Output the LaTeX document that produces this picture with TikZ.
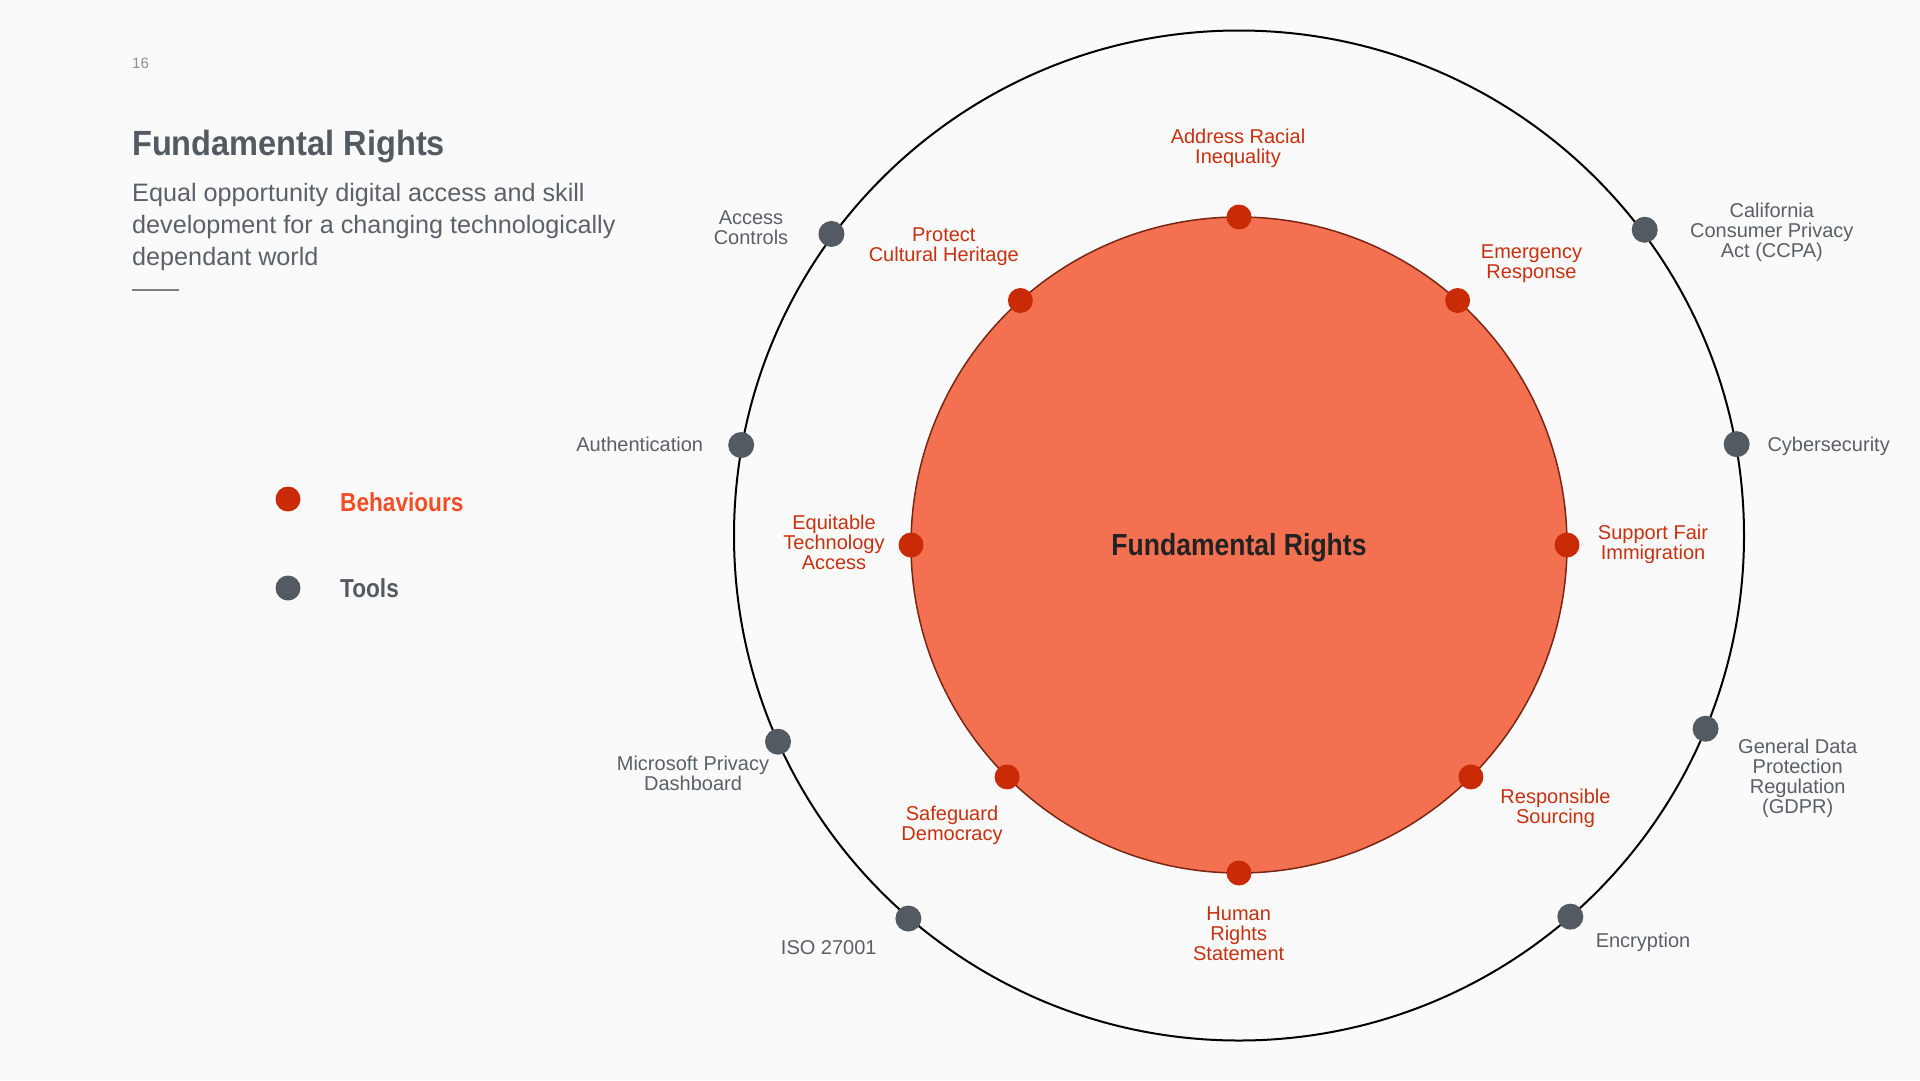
\documentclass[tikz,border=0pt]{standalone}
\usepackage{fontspec}
\setmainfont{Liberation Sans}
\newfontfamily\condb[FakeStretch=0.87]{Liberation Sans}
\newfontfamily\titlef[FakeStretch=0.93]{Liberation Sans}
\usetikzlibrary{calc}
\definecolor{bg}{HTML}{FAFAFA}
\definecolor{innerfill}{HTML}{F37150}
\definecolor{innerline}{HTML}{7A2612}
\definecolor{bdotc}{HTML}{C82B06}
\definecolor{blabc}{HTML}{C8300E}
\definecolor{legendb}{HTML}{F24E25}
\definecolor{tdotc}{HTML}{545A62}
\definecolor{tlabc}{HTML}{5A6068}
\definecolor{titlec}{HTML}{545A61}
\definecolor{bodyc}{HTML}{5B6169}
\definecolor{centerc}{HTML}{222222}
\definecolor{pagec}{HTML}{8A8F94}
\definecolor{sepc}{HTML}{7A7F85}
\begin{document}
\begin{tikzpicture}[x=1pt,y=-1pt,
  bdot/.style={circle, fill=bdotc, inner sep=0pt, minimum size=25pt},
  tdot/.style={circle, fill=tdotc, inner sep=0pt, minimum size=26pt},
  lab/.style={align=center, anchor=base, inner sep=0pt, font=\fontsize{20}{20}\selectfont},
  blabel/.style={lab, text=blabc},
  tlabel/.style={lab, text=tlabc}]
\path[use as bounding box, fill=bg] (0,0) rectangle (1920,1080);

% header (multi-line nodes are anchored at the baseline of their last line)
\node[anchor=base west, inner sep=0pt, text=pagec, font=\fontsize{15}{15}\selectfont] (page) at (132,68.3) {16};
\node[anchor=base west, inner sep=0pt, text=titlec, font=\titlef\bfseries\fontsize{35}{35}\selectfont] (title) at (132,155) {Fundamental Rights};
\node[anchor=base west, inner sep=0pt, align=left, text=bodyc, font=\fontsize{25.2}{31.7}\selectfont] (body) at (132,265) {Equal opportunity digital access and skill\\development for a changing technologically\\dependant world};
\coordinate (s1) at (132,290);
\coordinate (s2) at (178.5,290);
\draw[sepc, line width=2pt] (s1) -- (s2);

% legend
\node[bdot] (legb) at (288,499) {};
\node[tdot, minimum size=25pt] (legt) at (288,588) {};
\node[anchor=base west, inner sep=0pt, text=legendb, font=\condb\bfseries\fontsize{26}{26}\selectfont] (legbt) at (340,511) {Behaviours};
\node[anchor=base west, inner sep=0pt, text=titlec, font=\condb\bfseries\fontsize{26}{26}\selectfont] (legtt) at (340,597) {Tools};

% circles
\coordinate (co) at (1239,535.5);
\coordinate (ci) at (1239,545);
\node[circle, draw=black, line width=2pt, minimum size=1010pt, inner sep=0pt] (outer) at (co) {};
\node[circle, draw=innerline, line width=1.5pt, fill=innerfill, minimum size=656pt, inner sep=0pt] (inner) at (ci) {};
\node[anchor=base, inner sep=0pt, text=centerc, font=\condb\bfseries\fontsize{30.5}{30.5}\selectfont] (ctitle) at (1239,555) {Fundamental Rights};

% behaviours (inner circle)
\node[bdot] (b1) at ($(ci)+(-90:328)$) {};
\node[bdot] (b2) at ($(ci)+(-48.2:328)$) {};
\node[bdot] (b3) at ($(ci)+(-131.8:328)$) {};
\node[bdot] (b4) at ($(ci)+(0:328)$) {};
\node[bdot] (b5) at ($(ci)+(180:328)$) {};
\node[bdot] (b6) at ($(ci)+(45:328)$) {};
\node[bdot] (b7) at ($(ci)+(135:328)$) {};
\node[bdot] (b8) at ($(ci)+(90:328)$) {};

\node[blabel] (b1l) at (1238,163.3) {Address Racial\\Inequality};
\node[blabel] (b2l) at (1531.5,278.3) {Emergency\\Response};
\node[blabel] (b3l) at (943.8,261.7) {Protect\\Cultural Heritage};
\node[blabel] (b4l) at (1653,559.3) {Support Fair\\Immigration};
\node[blabel] (b5l) at (834,569.3) {Equitable\\Technology\\Access};
\node[blabel] (b6l) at (1555.5,823.3) {Responsible\\Sourcing};
\node[blabel] (b7l) at (952,840) {Safeguard\\Democracy};
\node[blabel] (b8l) at (1238.7,960) {Human\\Rights\\Statement};

% tools (outer circle)
\node[tdot] (t1) at ($(co)+(-143.5:507)$) {};
\node[tdot] (t2) at ($(co)+(-169.7:506)$) {};
\node[tdot] (t3) at ($(co)+(155.9:505)$) {};
\node[tdot] (t4) at ($(co)+(130.8:506)$) {};
\node[tdot] (t5) at ($(co)+(49:505)$) {};
\node[tdot] (t6) at ($(co)+(22.5:505)$) {};
\node[tdot] (t7) at ($(co)+(-10.4:506)$) {};
\node[tdot] (t8) at ($(co)+(-37:508)$) {};

\node[tlabel] (t1l) at (751,244.6) {Access\\Controls};
\node[tlabel, anchor=base east] (t2l) at (703.3,451.7) {Authentication};
\node[tlabel] (t3l) at (693,790.7) {Microsoft Privacy\\Dashboard};
\node[tlabel] (t4l) at (828.8,954) {ISO 27001};
\node[tlabel] (t5l) at (1643,947.7) {Encryption};
\node[tlabel] (t6l) at (1797.7,813.3) {General Data\\Protection\\Regulation\\(GDPR)};
\node[tlabel, anchor=base west] (t7l) at (1767.3,451.7) {Cybersecurity};
\node[tlabel] (t8l) at (1771.8,257.3) {California\\Consumer Privacy\\Act (CCPA)};
\end{tikzpicture}
\end{document}
